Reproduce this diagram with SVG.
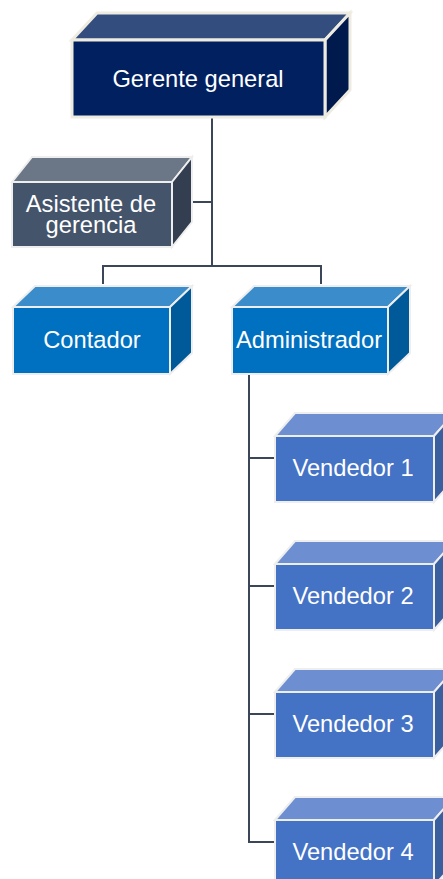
<svg xmlns="http://www.w3.org/2000/svg" width="443" height="879" viewBox="0 0 443 879">
<style>
.b{stroke:#eeeeee;stroke-width:2;stroke-linejoin:miter}
.g{stroke:#eeece1;stroke-width:3}
.t{font-family:"Liberation Sans",Arial,sans-serif;font-size:23.7px;fill:#ffffff;text-anchor:middle}
.c{fill:none;stroke:#3b4758;stroke-width:2}
</style>
<rect width="443" height="879" fill="#ffffff"/>
<g id="connectors">
<polyline class="c" points="212,118 212,266"/>
<polyline class="c" points="193,202 212,202"/>
<polyline class="c" points="103,284 103,266 321,266 321,284"/>
<polyline class="c" points="249,375 249,842 275,842"/>
<polyline class="c" points="249,458 275,458"/>
<polyline class="c" points="249,586 275,586"/>
<polyline class="c" points="249,714 275,714"/>
</g>
<g id="gerente">
<polygon class="b g" fill="#334d7f" points="72,40 97,13 350,13 325,40"/>
<polygon class="b g" fill="#001a4d" points="325,40 350,13 350,90 325,117"/>
<rect class="b g" fill="#002060" x="72" y="40" width="253" height="77"/>
<text class="t" x="198" y="87">Gerente general</text>
</g>
<g id="asistente">
<polygon class="b" fill="#6b7787" points="12,182 32,157 192,157 172,182"/>
<polygon class="b" fill="#333f50" points="172,182 192,157 192,222 172,247"/>
<rect class="b" fill="#44546a" x="12" y="182" width="160" height="65"/>
<text class="t" x="91" y="212">Asistente de</text>
<text class="t" x="91" y="233">gerencia</text>
</g>
<g id="contador">
<polygon class="b" fill="#3a8ccb" points="13,307 35,286 192,286 170,307"/>
<polygon class="b" fill="#005a9a" points="170,307 192,286 192,353 170,374"/>
<rect class="b" fill="#0070c0" x="13" y="307" width="157" height="67"/>
<text class="t" x="92" y="348">Contador</text>
</g>
<g id="administrador">
<polygon class="b" fill="#3a8ccb" points="232,307 254,286 410,286 388,307"/>
<polygon class="b" fill="#005a9a" points="388,307 410,286 410,353 388,374"/>
<rect class="b" fill="#0070c0" x="232" y="307" width="156" height="67"/>
<text class="t" x="309" y="348">Administrador</text>
</g>
<g id="vendedor1">
<polygon class="b" fill="#6d8fd1" points="275,436 295,413 454,413 434,436"/>
<polygon class="b" fill="#3a5f9e" points="434,436 454,413 454,479 434,502"/>
<rect class="b" fill="#4472c4" x="275" y="436" width="159" height="66"/>
<text class="t" x="353" y="476">Vendedor 1</text>
</g>
<g id="vendedor2">
<polygon class="b" fill="#6d8fd1" points="275,564 295,541 454,541 434,564"/>
<polygon class="b" fill="#3a5f9e" points="434,564 454,541 454,607 434,630"/>
<rect class="b" fill="#4472c4" x="275" y="564" width="159" height="66"/>
<text class="t" x="353" y="604">Vendedor 2</text>
</g>
<g id="vendedor3">
<polygon class="b" fill="#6d8fd1" points="275,692 295,669 454,669 434,692"/>
<polygon class="b" fill="#3a5f9e" points="434,692 454,669 454,735 434,758"/>
<rect class="b" fill="#4472c4" x="275" y="692" width="159" height="66"/>
<text class="t" x="353" y="732">Vendedor 3</text>
</g>
<g id="vendedor4">
<polygon class="b" fill="#6d8fd1" points="275,820 295,797 454,797 434,820"/>
<polygon class="b" fill="#3a5f9e" points="434,820 454,797 454,863 434,886"/>
<rect class="b" fill="#4472c4" x="275" y="820" width="159" height="66"/>
<text class="t" x="353" y="860">Vendedor 4</text>
</g>
</svg>
